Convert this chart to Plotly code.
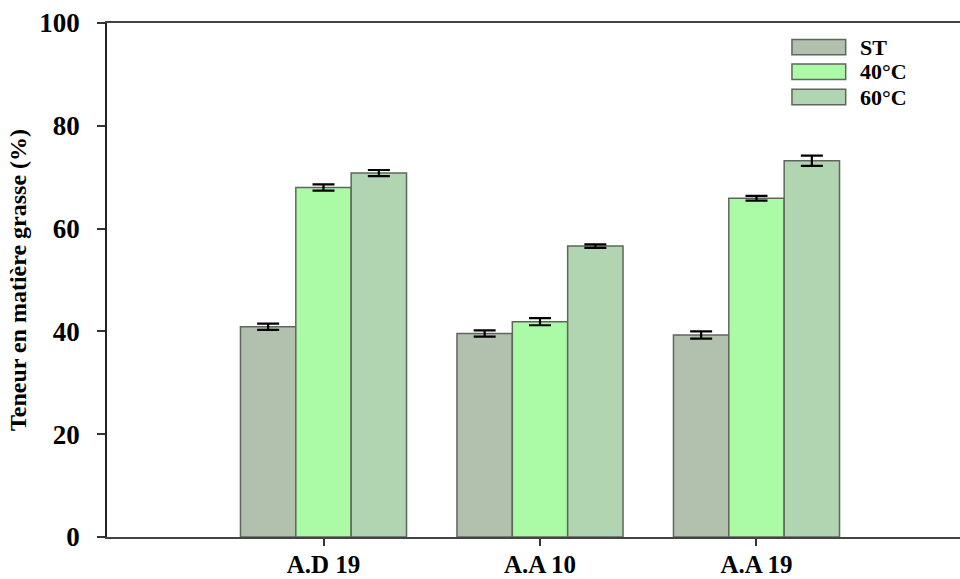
import plotly.graph_objects as go

# Samples and treatments
categories = ["A.D 19", "A.A 10", "A.A 19"]
series_names = ["ST", "40°C", "60°C"]

# Fat content (%) per treatment, one value per sample
st_values = [40.9, 39.6, 39.3]
t40_values = [68.0, 41.9, 65.9]
t60_values = [70.8, 56.6, 73.2]

# Standard errors
st_err = [0.6, 0.6, 0.7]
t40_err = [0.6, 0.7, 0.45]
t60_err = [0.6, 0.35, 1.0]

y_ticks = [0, 20, 40, 60, 80, 100]

colors = ["#b1c1ae", "#aafaa6", "#b1d5b0"]
outline = "#5f665e"
serif = "Liberation Serif, Times New Roman, serif"

positions = [i + 1 for i in range(len(categories))]

fig = go.Figure()
for name, vals, errs, col in zip(series_names,
                                 [st_values, t40_values, t60_values],
                                 [st_err, t40_err, t60_err],
                                 colors):
    fig.add_trace(go.Bar(
        x=positions, y=vals, name=name,
        marker=dict(color=col, line=dict(color=outline, width=1.5)),
        error_y=dict(type="data", array=errs, visible=True,
                     color="black", thickness=2.2, width=11),
        showlegend=False,
    ))

# Legend drawn as wide swatches at the top right
legend_x0, legend_x1, text_x = 0.803, 0.866, 0.881
legend_rows = [0.953, 0.905, 0.856]
box_h = 0.015
for name, col, yc in zip(series_names, colors, legend_rows):
    fig.add_shape(type="rect", xref="paper", yref="paper",
                  x0=legend_x0, x1=legend_x1, y0=yc - box_h, y1=yc + box_h,
                  fillcolor=col, line=dict(color=outline, width=1.5))
    fig.add_annotation(xref="paper", yref="paper", x=text_x, y=yc,
                       text=f"<b>{name}</b>", showarrow=False,
                       xanchor="left", yanchor="middle",
                       font=dict(family=serif, size=22, color="black"))

fig.update_layout(
    width=960, height=579,
    margin=dict(l=107, r=0, t=23, b=42),
    paper_bgcolor="white", plot_bgcolor="white",
    barmode="group", bargap=0.233, bargroupgap=0.0,
    font=dict(family=serif, color="black"),
)
fig.update_xaxes(
    range=[0, 3.94], tickvals=positions,
    ticktext=[f"<b>{c}</b>" for c in categories],
    showline=True, linecolor="#444444", linewidth=1.5, mirror=True,
    ticks="outside", ticklen=7, tickwidth=1.5, tickcolor="#333333",
    tickfont=dict(family=serif, size=25, color="black"),
    ticklabelstandoff=-3, automargin=False,
    showgrid=False, zeroline=False,
)
fig.update_yaxes(
    range=[0, 100], tickvals=y_ticks,
    ticktext=[f"<b>{v}</b>" for v in y_ticks],
    showline=True, linecolor="#222222", linewidth=1.5,
    ticks="outside", ticklen=8, tickwidth=1.5, tickcolor="#333333",
    tickfont=dict(family=serif, size=27, color="black"),
    ticklabelstandoff=12, automargin=False,
    showgrid=False, zeroline=False,
    title=dict(text="<b>Teneur en matière grasse (%)</b>",
               font=dict(family=serif, size=24, color="black"), standoff=6),
)

fig.write_html("out.html")
